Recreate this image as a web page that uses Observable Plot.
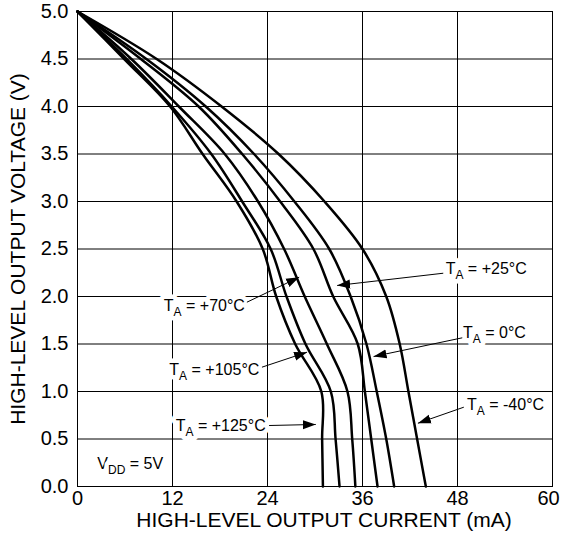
<!DOCTYPE html>
<html><head><meta charset="utf-8">
<script src="https://cdn.jsdelivr.net/npm/d3@7"></script>
<script src="https://cdn.jsdelivr.net/npm/@observablehq/plot@0.6"></script>
<style>
html,body{margin:0;padding:0;background:#fff;}
#chart{width:561px;height:539px;}
</style>
</head><body><div id="chart"></div>
<script>
// Output voltage levels (V) at which currents are sampled
const voltages = [5.0, 4.5, 4.0, 3.5, 3.0, 2.5, 2.0, 1.5, 1.0, 0.5, 0.0];
// High-level output current (mA) per temperature
const currentM40 = [0, 10.0, 18.2, 25.4, 31.2, 36.0, 39.0, 40.7, 41.8, 42.9, 44.0];
const current0   = [0, 8.7, 16.2, 22.3, 27.4, 31.8, 34.5, 36.5, 37.8, 39.0, 40.0];
const current25  = [0, 8.0, 15.3, 20.8, 25.6, 29.8, 32.3, 35.4, 36.3, 37.1, 37.9];
const current70  = [0, 6.8, 12.8, 18.6, 22.8, 26.1, 28.7, 31.5, 34.1, 34.7, 35.1];
const current105 = [0, 6.2, 11.9, 16.9, 20.8, 24.4, 26.4, 28.8, 32.0, 32.6, 33.1];
const current125 = [0, 5.9, 11.7, 15.8, 20.1, 23.4, 25.1, 27.5, 30.8, 30.9, 31.0];
const temps = ["-40", "0", "+25", "+70", "+105", "+125"];
const currents = [currentM40, current0, current25, current70, current105, current125];

// Axis ticks
const xTicks = [0, 12, 24, 36, 48];
const xTickLast = [60];
const yTicks = [0, 0.5, 1.0, 1.5, 2.0, 2.5, 3.0, 3.5, 4.0, 4.5, 5.0];
const xGrid = [12, 24, 36, 48];
const yGrid = [0.5, 1.0, 1.5, 2.0, 2.5, 3.0, 3.5, 4.0, 4.5];

// Annotations (data units)
const annoText = ["TA = +25°C", "TA = 0°C", "TA = -40°C", "TA = +70°C", "TA = +105°C", "TA = +125°C", "VDD = 5V"];
const annoX    = [46.5, 48.7, 49.2, 10.9, 11.6, 12.4, 2.5];
const annoY    = [2.29, 1.62, 0.86, 1.90, 1.23, 0.64, 0.24];
const tailX    = [46.2, 48.6, 48.8, 21.4, 23.3, 24.2];
const tailY    = [2.245, 1.565, 0.835, 1.94, 1.256, 0.642];
const tipX     = [32.8, 37.4, 43.0, 28.0, 29.0, 30.1];
const tipY     = [2.116, 1.368, 0.666, 2.203, 1.414, 0.653];

const rows = temps.flatMap((t, k) => currents[k].map((c, i) => ({temp: t, current: c, voltage: voltages[i]})));
const labels = annoText.map((t, i) => ({text: t, x: annoX[i], y: annoY[i]}));
const arrows = tipX.map((_, i) => ({x1: tailX[i], y1: tailY[i], x2: tipX[i], y2: tipY[i]}));

const plot = Plot.plot({
  width: 561,
  height: 539,
  marginLeft: 77,
  marginRight: 9,
  marginTop: 11,
  marginBottom: 53,
  style: {fontFamily: "'Liberation Sans', Arimo, Arial, sans-serif", background: "white", color: "black"},
  x: {domain: [0, 60]},
  y: {domain: [0, 5]},
  marks: [
    Plot.gridX(xGrid, {stroke: "black", strokeOpacity: 1, strokeWidth: 1}),
    Plot.gridY(yGrid, {stroke: "black", strokeOpacity: 1, strokeWidth: 1}),
    Plot.text(labels, {x: "x", y: "y", text: "text", textAnchor: "start", fontSize: 16, fill: "black",
      stroke: "white", strokeWidth: 9, paintOrder: "stroke"}),
    Plot.frame({stroke: "black", strokeWidth: 1}),
    Plot.axisX({ticks: xTicks, tickSize: 0, tickPadding: 4, fontSize: 20, label: null}),
    Plot.axisX({ticks: xTickLast, tickSize: 0, tickPadding: 4, fontSize: 20, label: null, dx: -4}),
    Plot.axisY({ticks: yTicks, tickSize: 0, tickPadding: 9, fontSize: 20, tickFormat: d => d.toFixed(1), label: null}),
    Plot.text(["HIGH-LEVEL OUTPUT CURRENT (mA)"], {frameAnchor: "bottom", textAnchor: "middle", dy: 40, dx: 9, fontSize: 21, fill: "black"}),
    Plot.text(["HIGH-LEVEL OUTPUT VOLTAGE (V)"], {frameAnchor: "left", textAnchor: "middle", rotate: -90, dx: -59, fontSize: 21, fill: "black"}),
    Plot.line(rows, {x: "current", y: "voltage", z: "temp", stroke: "black", strokeWidth: 2.5, curve: "catmull-rom"}),
    Plot.link(arrows, {x1: "x1", y1: "y1", x2: "x2", y2: "y2", stroke: "black", strokeWidth: 1})
  ]
});

// filled arrowheads
const svgNS = "http://www.w3.org/2000/svg";
const defs = document.createElementNS(svgNS, "defs");
const marker = document.createElementNS(svgNS, "marker");
marker.setAttribute("id", "ahead");
marker.setAttribute("markerUnits", "userSpaceOnUse");
marker.setAttribute("markerWidth", "14");
marker.setAttribute("markerHeight", "10");
marker.setAttribute("refX", "13");
marker.setAttribute("refY", "5");
marker.setAttribute("orient", "auto");
const mp = document.createElementNS(svgNS, "path");
mp.setAttribute("d", "M0,0.5L13,5L0,9.5Z");
mp.setAttribute("fill", "black");
marker.appendChild(mp);
defs.appendChild(marker);
plot.insertBefore(defs, plot.firstChild);
d3.select(plot).selectAll("g[aria-label=link] path").attr("marker-end", "url(#ahead)");

// subscripts
d3.select(plot).selectAll("text").each(function() {
  const m = this.textContent.match(/^(T|V)(A|DD)( = .+)$/);
  if (!m) return;
  const el = d3.select(this);
  el.text(null);
  el.append("tspan").text(m[1]);
  el.append("tspan").attr("dy", 5).attr("font-size", 12).text(m[2]);
  el.append("tspan").attr("dy", -5).text(m[3]);
});

document.getElementById("chart").appendChild(plot);
</script>
</body></html>
